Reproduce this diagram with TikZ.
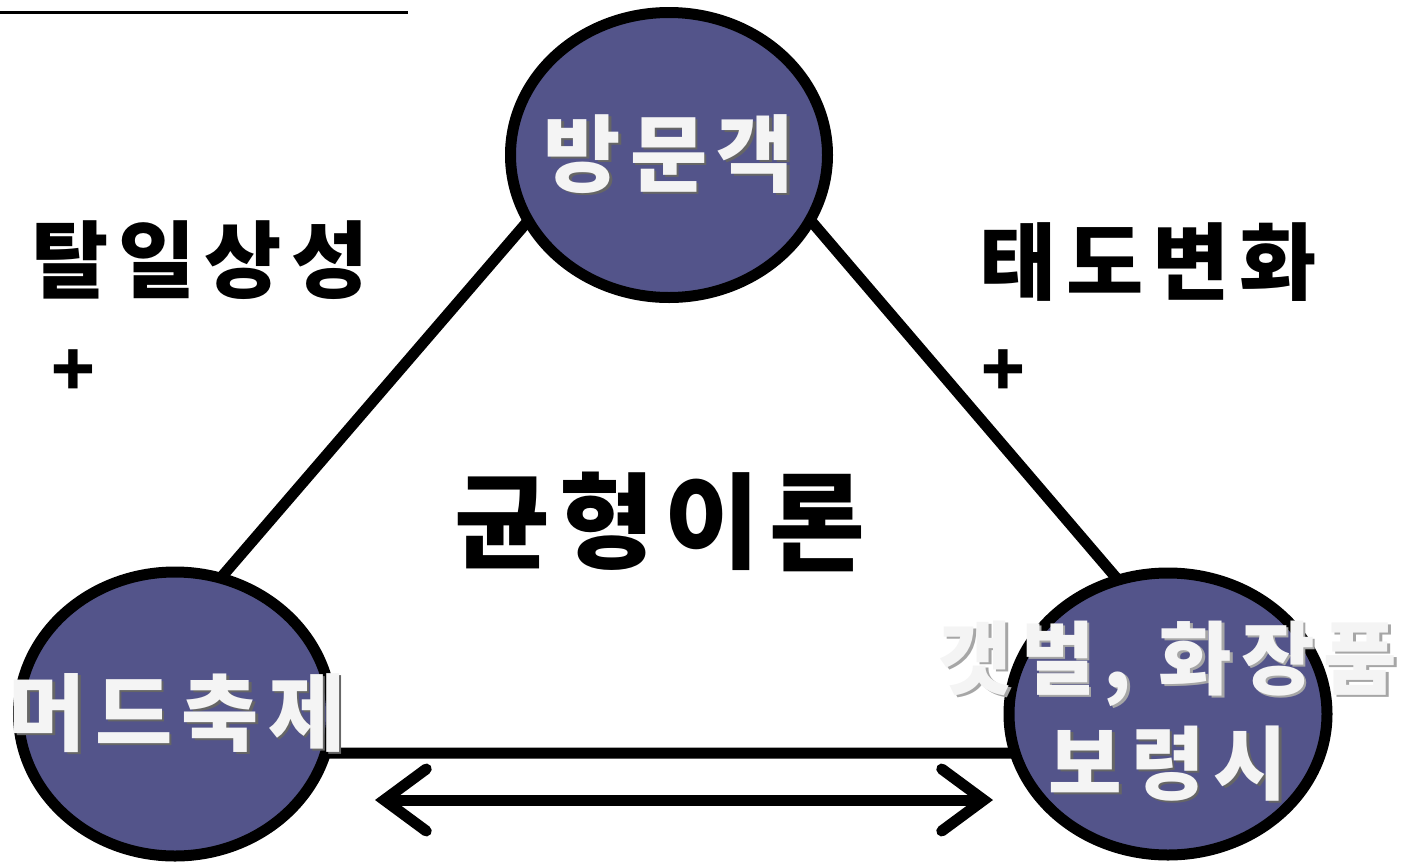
\documentclass[tikz,border=0pt]{standalone}
\usepackage{fontspec}
\setmainfont{Noto Sans CJK KR}
\usetikzlibrary{arrows.meta,shapes.geometric}
\definecolor{bubbleblue}{RGB}{83,84,138}
\definecolor{softwhite}{RGB}{244,244,244}
\newcommand\shtext[3]{\rlap{\hspace{2.5pt}\raisebox{-2.5pt}{\textcolor{#2}{#3}}}\textcolor{#1}{#3}}
\begin{document}
\begin{tikzpicture}[x=1pt,y=-1pt,
  bubble/.style={ellipse, draw=black, line width=11pt, fill=bubbleblue, inner sep=0pt},
  word/.style={inner sep=0pt, font=\bfseries\fontsize{84}{100}\selectfont\addfontfeature{LetterSpace=11}},
  bigword/.style={inner sep=0pt, font=\bfseries\fontsize{104}{120}\selectfont\addfontfeature{LetterSpace=9}},
  plus/.style={inner sep=0pt, font=\bfseries\fontsize{72}{72}\selectfont}]
\useasboundingbox (0,0) rectangle (1406,865);
% triangle behind the bubbles
\coordinate (apex) at (670,56);
\coordinate (left) at (70,753);
\coordinate (right) at (1266,753);
\draw[line width=11pt, line join=miter] (apex) -- (left) -- (right) -- cycle;
% cut-off title underline
\draw[line width=3pt] (0,12) -- (408,12);
% bubbles
\node[bubble, minimum width=317pt, minimum height=285pt] (visitor) at (669,155) {};
\node[bubble, minimum width=313pt, minimum height=284pt] (mud) at (175,714) {};
\node[bubble, minimum width=318pt, minimum height=282pt] (city) at (1168,714) {};
% texts in the bubbles
\node[word] (visitorlbl) at (visitor.center) {\shtext{softwhite}{black!60}{방문객}};
\node[word] (mudlbl) at (177,714) {\shtext{softwhite}{black!60}{머드축제}};
\node[word, align=center, font=\bfseries\fontsize{80}{105}\selectfont\addfontfeature{LetterSpace=11}] (citylbl) at (1168,712)
  {\shtext{softwhite}{black!35}{갯벌, 화장품}\\\shtext{softwhite}{black!60}{보령시}};
% side texts
\node[word] (escape) at (200,260) {탈일상성};
\node[plus] (plusl) at (73,373) {+};
\node[word] (attitude) at (1148,262) {태도변화};
\node[plus] (plusr) at (1003,373) {+};
\node[bigword] (balance) at (660,522) {균형이론};
% two-way arrow
\coordinate (arrl) at (375,800);
\coordinate (arrr) at (993,800);
\draw[line width=11pt, {Straight Barb[length=42pt,width=62pt,line cap=round]}-{Straight Barb[length=42pt,width=62pt,line cap=round]}] (arrl) -- (arrr);
\end{tikzpicture}
\end{document}
